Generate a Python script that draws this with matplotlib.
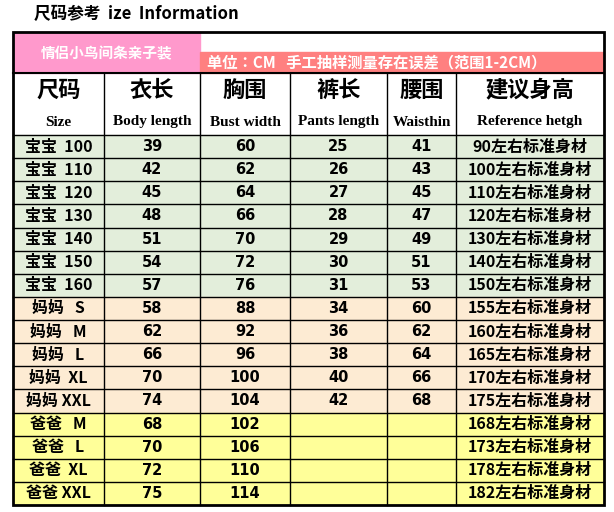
import matplotlib
matplotlib.use("Agg")
import matplotlib.pyplot as plt
from matplotlib.patches import Rectangle
from matplotlib import font_manager

names = {f.name for f in font_manager.fontManager.ttflist}
cjk = [n for n in ["Noto Sans CJK SC", "Noto Sans CJK JP", "Noto Sans CJK TC", "Noto Sans CJK KR"] if n in names]
plt.rcParams["font.family"] = ["DejaVu Sans"] + cjk
cjk_first = cjk + ["DejaVu Sans"]

title = "尺码参考  ize  Information"
banner_left = "情侣小鸟间条亲子装"
banner_right = "单位：CM   手工抽样测量存在误差（范围1-2CM）"
headers_cn = ["尺码", "衣长", "胸围", "裤长", "腰围", "建议身高"]
headers_en = ["Size", "Body length", "Bust width", "Pants length", "Waisthin", "Reference hetgh"]
sizes = ["宝宝  100", "宝宝  110", "宝宝  120", "宝宝  130", "宝宝  140", "宝宝  150", "宝宝  160",
         "妈妈   S", "妈妈   M", "妈妈   L", "妈妈  XL", "妈妈 XXL",
         "爸爸   M", "爸爸   L", "爸爸  XL", "爸爸 XXL"]
body_length = [39, 42, 45, 48, 51, 54, 57, 58, 62, 66, 70, 74, 68, 70, 72, 75]
bust_width = [60, 62, 64, 66, 70, 72, 76, 88, 92, 96, 100, 104, 102, 106, 110, 114]
pants_length = [25, 26, 27, 28, 29, 30, 31, 34, 36, 38, 40, 42, None, None, None, None]
waist = [41, 43, 45, 47, 49, 51, 53, 60, 62, 64, 66, 68, None, None, None, None]
height = [90, 100, 110, 120, 130, 140, 150, 155, 160, 165, 170, 175, 168, 173, 178, 182]
groups = ["baby"] * 7 + ["mom"] * 5 + ["dad"] * 4
group_colors = {"baby": "#e3eedb", "mom": "#fdebd3", "dad": "#ffff99"}

fig = plt.figure(figsize=(6.14, 5.12), dpi=100)
ax = fig.add_axes([0, 0, 1, 1])
ax.set_xlim(0, 614)
ax.set_ylim(512, 0)
ax.axis("off")

cols = [13, 104, 200, 290, 387, 456, 604]
top, band_mid, band_bot, head_bot, bottom = 32, 52, 73, 135, 505
rh = (bottom - head_bot) / len(sizes)

ax.text(34, 14, title, fontsize=12, fontweight="bold", style="italic", va="center", ha="left", family=cjk_first)
ax.add_patch(Rectangle((cols[0], top), cols[2] - cols[0], band_bot - top, color="#ff99cc", zorder=0))
ax.add_patch(Rectangle((cols[2], band_mid), cols[6] - cols[2], band_bot - band_mid, color="#ff8080", zorder=0))
ax.text((cols[0] + cols[2]) / 2, (top + band_bot) / 2 + 1, banner_left, color="white", fontsize=10.5, fontweight="bold", ha="center", va="center", family=cjk_first)
ax.text(cols[2] + 7, (band_mid + band_bot) / 2, banner_right, color="white", fontsize=11, fontweight="bold", ha="left", va="center", family=cjk_first)

for j in range(6):
    cx = (cols[j] + cols[j + 1]) / 2
    ax.text(cx, 90, headers_cn[j], fontsize=16, fontweight="bold", ha="center", va="center", family=cjk_first)
    ax.text(cx, 122, headers_en[j], fontsize=11, fontweight="bold", family="Liberation Serif", ha="center", va="center")

for i in range(len(sizes)):
    y0 = head_bot + i * rh
    ax.add_patch(Rectangle((cols[0], y0), cols[6] - cols[0], rh, color=group_colors[groups[i]], zorder=0))
    vals = [sizes[i], body_length[i], bust_width[i], pants_length[i], waist[i], f"{height[i]}左右标准身材"]
    for j, v in enumerate(vals):
        if v is None:
            continue
        fam = cjk_first if j in (0, 5) else ["DejaVu Sans"]
        ax.text((cols[j] + cols[j + 1]) / 2, y0 + rh / 2, str(v), fontsize=11.5 if j in (0, 5) else 10.5,
                fontweight="bold", ha="center", va="center", family=fam)
    ax.plot([cols[0], cols[6]], [y0, y0], color="black", lw=1)

ax.plot([cols[0], cols[6]], [band_bot, band_bot], color="black", lw=1.5)
for x in cols[1:-1]:
    ax.plot([x, x], [band_bot, bottom], color="black", lw=1)
ax.add_patch(Rectangle((cols[0], top), cols[6] - cols[0], bottom - top, fill=False, ec="black", lw=2))

fig.savefig("out.png", dpi=100)
